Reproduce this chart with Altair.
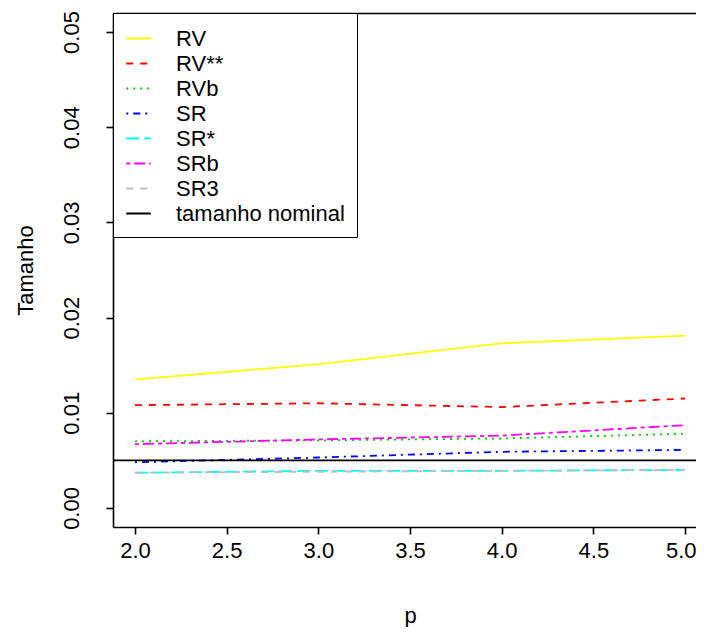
import altair as alt
import pandas as pd

# ---- data ----
p_values = [2, 3, 4, 5]
series_names = ["RV", "RV**", "RVb", "SR", "SR*", "SRb", "SR3"]
RV = [0.0135, 0.0151, 0.0173, 0.0181]
RV_ss = [0.0108, 0.0110, 0.0106, 0.0115]
RVb = [0.0070, 0.0071, 0.0073, 0.0078]
SR = [0.0048, 0.0053, 0.0059, 0.0061]
SR_s = [0.0037, 0.0039, 0.0039, 0.0040]
SRb = [0.0067, 0.0072, 0.0076, 0.0087]
SR3 = [0.0037, 0.0038, 0.0039, 0.0040]
nominal_label = "tamanho nominal"
nominal_level = 0.005

x_ticks = [2.0, 2.5, 3.0, 3.5, 4.0, 4.5, 5.0]
y_ticks = [0.00, 0.01, 0.02, 0.03, 0.04, 0.05]

colors = ["#FFFF00", "#FF0000", "#00CD00", "#0000FF", "#00FFFF", "#FF00FF", "#BEBEBE", "#000000"]
dashes = [[1, 0], [7, 7], [2, 5], [2, 5, 7, 5], [13, 5], [4, 4, 11, 4], [7, 7], [1, 0]]

all_series = [RV, RV_ss, RVb, SR, SR_s, SRb, SR3]
rows = []
for name, vals in zip(series_names, all_series):
    for p, v in zip(p_values, vals):
        rows.append({"p": p, "valor": v, "serie": name})
df = pd.DataFrame(rows)
df_nom = pd.DataFrame({"nivel": [nominal_level]})

domain = series_names + [nominal_label]
FONT = "Liberation Sans"
FS = 22

xscale = alt.Scale(domain=[1.88, 5.06], nice=False, zero=False)
yscale = alt.Scale(domain=[-0.002, 0.052], nice=False, zero=False)

leg = dict(orient="top-left", offset=0, title=None,
           strokeColor="black", fillColor="white", padding=12,
           symbolType="stroke", symbolSize=600, symbolStrokeWidth=1.8,
           labelFontSize=FS, labelFont=FONT, labelColor="black",
           labelOffset=24, rowPadding=-7, labelLimit=400, symbolLimit=0)

lines = alt.Chart(df).mark_line(strokeWidth=1.8).encode(
    x=alt.X("p:Q", scale=xscale,
            axis=alt.Axis(values=x_ticks, format=".1f", title="p",
                          titleX=297, titleY=100, titleBaseline="bottom", titleAlign="center",
                          labelPadding=6, labelFlush=12, labelFlushOffset=11)),
    y=alt.Y("valor:Q", scale=yscale,
            axis=alt.Axis(values=y_ticks, format=".2f", title="Tamanho",
                          labelAngle=270, labelAlign="center", labelBaseline="alphabetic",
                          labelPadding=28, labelFlush=False,
                          titleX=-88, titleY=257, titleAngle=270, titleAlign="center",
                          titleBaseline="middle")),
    color=alt.Color("serie:N", scale=alt.Scale(domain=domain, range=colors),
                    sort=domain, legend=alt.Legend(**leg)),
    strokeDash=alt.StrokeDash("serie:N", scale=alt.Scale(domain=domain, range=dashes),
                              sort=domain, legend=alt.Legend(**leg)),
    order=alt.Order("p:Q"),
)

# invisible layer that only carries the top edge of the box
top_edge = alt.Chart(df).mark_line(opacity=0).encode(
    x=alt.X("p:Q", scale=xscale,
            axis=alt.Axis(orient="top", labels=False, ticks=False, title=None, domain=True)),
    y=alt.Y("valor:Q", scale=yscale),
)

rule_full = alt.Chart(df_nom).mark_rule(color="black", strokeWidth=1.6).encode(
    y=alt.Y("nivel:Q", scale=yscale)
)

chart = alt.layer(lines, top_edge, rule_full).resolve_axis(x="independent").properties(
    width=583, height=514,
    autosize=alt.AutoSizeParams(type="none"),
    padding={"left": 105, "top": 5, "right": 0, "bottom": 100},
    background="white",
).configure_view(
    stroke=None
).configure_axis(
    domain=True, domainColor="black", domainWidth=1.6,
    grid=False, tickColor="black", tickSize=7, tickWidth=1.6,
    labelFont=FONT, labelFontSize=FS, labelColor="black",
    titleFont=FONT, titleFontSize=FS, titleColor="black", titleFontWeight="normal",
)

chart.save("out.html", embed_options={"renderer": "svg", "actions": False})
